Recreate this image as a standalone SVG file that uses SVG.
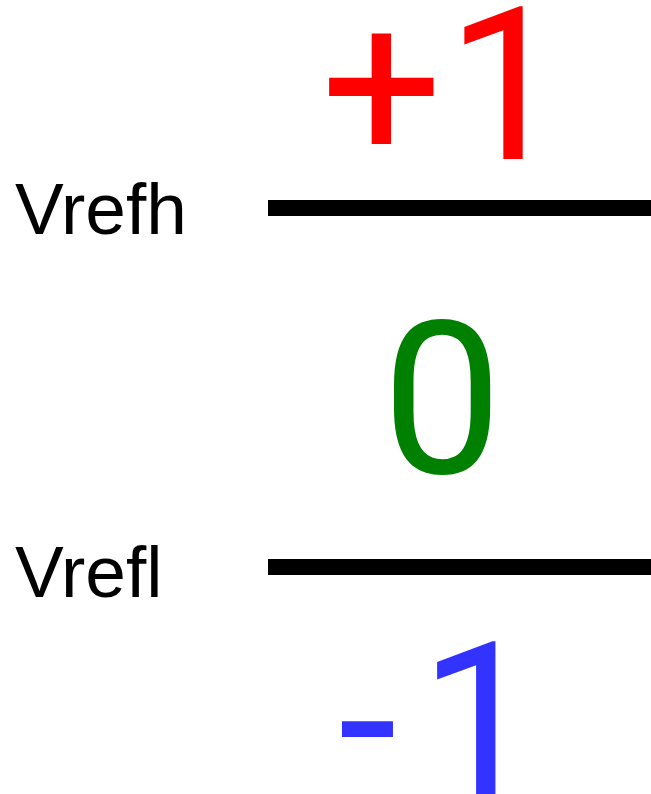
<svg xmlns="http://www.w3.org/2000/svg" width="651" height="794" viewBox="0 0 651 794">
<style>
.big{font-size:214px;font-family:Roboto,"Liberation Sans",sans-serif}
.lbl{font-size:73px;fill:#000;font-family:"Liberation Sans",Arial,sans-serif}
.ref{stroke:#000;stroke-width:16}
</style>
<rect width="651" height="794" fill="#fff"/>
<g id="connectors">
<line class="ref" x1="268" y1="208" x2="651" y2="208"/>
<line class="ref" x1="268" y1="567" x2="651" y2="567"/>
</g>
<g id="vrefh"><text class="lbl" x="15" y="234">Vrefh</text></g>
<g id="vrefl"><text class="lbl" x="15" y="597">Vrefl</text></g>
<g id="plus1"><text class="big" x="321" y="159" fill="#FF0000">+<tspan dx="4">1</tspan></text></g>
<g id="zero"><text class="big" x="382" y="473" fill="#008000">0</text></g>
<g id="minus1"><text class="big" x="338" y="794" fill="#3333FF">-<tspan dx="22">1</tspan></text></g>
</svg>
